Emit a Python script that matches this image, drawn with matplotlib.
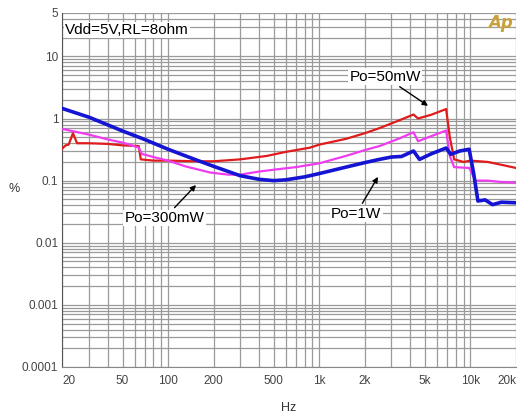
import matplotlib
matplotlib.use('Agg')
import matplotlib.pyplot as plt
from matplotlib.ticker import FixedLocator, LogLocator, NullFormatter

# THD+N vs frequency, Vdd=5V, RL=8ohm
freq_50mw = [20, 21, 22, 23.5, 25, 30, 40, 50, 64, 66, 80, 100, 150, 200, 300,
             450, 600, 870, 1000, 1500, 2000, 2500, 3400, 4200, 4500, 5500,
             6900, 7300, 7800, 9000, 10000, 13000, 16000, 20000]
thd_50mw = [0.33, 0.37, 0.38, 0.58, 0.40, 0.40, 0.39, 0.37, 0.36, 0.22, 0.21,
            0.21, 0.205, 0.205, 0.22, 0.25, 0.29, 0.34, 0.38, 0.47, 0.58, 0.70,
            0.94, 1.16, 1.0, 1.15, 1.42, 0.5, 0.22, 0.2, 0.21, 0.2, 0.18, 0.16]

freq_300mw = [20, 30, 40, 50, 64, 67, 80, 100, 130, 190, 250, 300, 400, 500,
              700, 1000, 1500, 2000, 2500, 3400, 4200, 4500, 5500, 6900, 7300,
              7800, 9800, 10800, 13000, 16000, 20000]
thd_300mw = [0.68, 0.55, 0.46, 0.41, 0.34, 0.27, 0.24, 0.21, 0.17, 0.135, 0.125,
             0.125, 0.14, 0.15, 0.165, 0.19, 0.25, 0.31, 0.36, 0.48, 0.60, 0.43,
             0.52, 0.64, 0.25, 0.165, 0.16, 0.10, 0.10, 0.095, 0.093]

freq_1w = [20, 30, 50, 70, 100, 150, 200, 300, 400, 500, 600, 800, 1000, 1500,
           2000, 2500, 3000, 3500, 4200, 4600, 5500, 6900, 7400, 8500, 9800,
           10500, 11200, 12500, 14000, 16000, 20000]
thd_1w = [1.45, 1.05, 0.63, 0.46, 0.32, 0.22, 0.17, 0.12, 0.105, 0.1, 0.103,
          0.115, 0.13, 0.165, 0.195, 0.22, 0.24, 0.245, 0.30, 0.22, 0.27, 0.335,
          0.265, 0.30, 0.32, 0.13, 0.047, 0.049, 0.041, 0.045, 0.044]

x_ticks = [20, 50, 100, 200, 500, 1000, 2000, 5000, 10000, 20000]
x_labels = ['20', '50', '100', '200', '500', '1k', '2k', '5k', '10k', '20k']
y_ticks = [0.0001, 0.001, 0.01, 0.1, 1, 10, 50]
y_labels = ['0.0001', '0.001', '0.01', '0.1', '1', '10', '5']

font = 'Liberation Sans'

fig = plt.figure(figsize=(5.22, 4.15), dpi=100)
ax = fig.add_axes([0.1195, 0.1157, 0.869, 0.853])

ax.plot(freq_50mw, thd_50mw, color='#e01b1b', lw=1.6, zorder=3)
ax.plot(freq_300mw, thd_300mw, color='#f03cf0', lw=1.6, zorder=3)
ax.plot(freq_1w, thd_1w, color='#1414d2', lw=2.6, zorder=4)

ax.set_xscale('log')
ax.set_yscale('log')
ax.set_xlim(20, 20000)
ax.set_ylim(0.0001, 50)

ax.xaxis.set_major_locator(FixedLocator(x_ticks))
ax.xaxis.set_minor_locator(LogLocator(base=10, subs=range(2, 10)))
ax.xaxis.set_minor_formatter(NullFormatter())
ax.set_xticklabels(x_labels)
ax.yaxis.set_major_locator(FixedLocator(y_ticks))
ax.yaxis.set_minor_locator(LogLocator(base=10, subs=range(2, 10)))
ax.yaxis.set_minor_formatter(NullFormatter())
ax.set_yticklabels(y_labels)

ax.grid(True, which='both', color='#9a9a9a', lw=0.9)
ax.tick_params(which='both', length=0, colors='#444444', labelsize=8.5)
ax.tick_params(axis='x', pad=6)
ax.tick_params(axis='y', pad=3)
for lab in ax.get_xticklabels() + ax.get_yticklabels():
    lab.set_family(font)
xl = ax.get_xticklabels()
xl[0].set_horizontalalignment('left')
xl[-1].set_horizontalalignment('right')

for side in ['top', 'right']:
    ax.spines[side].set_visible(False)
ax.spines['left'].set_color('#555555')
ax.spines['bottom'].set_color('#888888')

fig.text(289 / 522, 1 - 408 / 415, 'Hz', family=font, fontsize=9,
         color='#333333', ha='center', va='center')
fig.text(14 / 522, 1 - 189 / 415, '%', family=font, fontsize=9,
         color='#333333', ha='center', va='center')

box = dict(facecolor='white', edgecolor='none', pad=1)
ax.text(0.006, 0.952, 'Vdd=5V,RL=8ohm', transform=ax.transAxes, family=font,
        fontsize=11, va='center', ha='left', bbox=box, zorder=5)

ann = dict(arrowstyle='-|>', color='black', lw=1.0, mutation_scale=8,
           shrinkA=2, shrinkB=0)
ax.annotate('Po=50mW', xy=(5240, 1.6), xytext=(2720, 4.7), family=font,
            fontsize=11, ha='center', va='center', bbox=box,
            arrowprops=ann, zorder=5)
ax.annotate('Po=300mW', xy=(153, 0.085), xytext=(95, 0.025), family=font,
            fontsize=11, ha='center', va='center', bbox=box,
            arrowprops=ann, zorder=5)
ax.annotate('Po=1W', xy=(2445, 0.115), xytext=(1750, 0.029), family=font,
            fontsize=11, ha='center', va='center', bbox=box,
            arrowprops=ann, zorder=5)

# logo corner
fig.text(0.958, 0.945, 'Ap', color='#c8a13a', fontsize=12, style='italic',
         ha='center', va='center', fontweight='bold')

fig.savefig('out.png', dpi=100)
